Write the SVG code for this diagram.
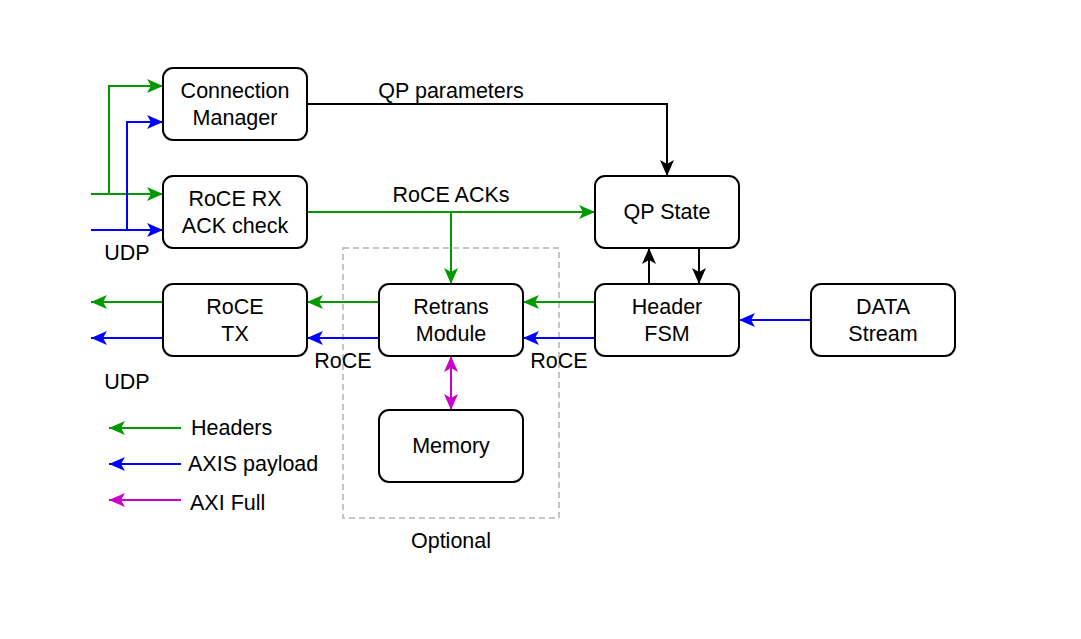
<svg xmlns="http://www.w3.org/2000/svg" width="1081" height="639" viewBox="0 0 1081 639">
<style>
.box{fill:#fff;stroke:#000;stroke-width:2}
text{font-family:"Liberation Sans",Arial,sans-serif;font-size:21.5px;fill:#000}
.c{text-anchor:middle}
.g{stroke:#009900;stroke-width:2;fill:none}
.b{stroke:#0000FF;stroke-width:2;fill:none}
.k{stroke:#000;stroke-width:2;fill:none}
.m{stroke:#CC00CC;stroke-width:2;fill:none}
</style>
<defs>
<marker id="ag" markerUnits="userSpaceOnUse" viewBox="0 0 16 14" refX="16" refY="7" markerWidth="16" markerHeight="14" orient="auto-start-reverse"><path d="M0,0 L16,7 L0,14 L4,7 Z" fill="#009900"/></marker>
<marker id="ab" markerUnits="userSpaceOnUse" viewBox="0 0 16 14" refX="16" refY="7" markerWidth="16" markerHeight="14" orient="auto-start-reverse"><path d="M0,0 L16,7 L0,14 L4,7 Z" fill="#0000FF"/></marker>
<marker id="ak" markerUnits="userSpaceOnUse" viewBox="0 0 16 14" refX="16" refY="7" markerWidth="16" markerHeight="14" orient="auto-start-reverse"><path d="M0,0 L16,7 L0,14 L4,7 Z" fill="#000"/></marker>
<marker id="am" markerUnits="userSpaceOnUse" viewBox="0 0 16 14" refX="16" refY="7" markerWidth="16" markerHeight="14" orient="auto-start-reverse"><path d="M0,0 L16,7 L0,14 L4,7 Z" fill="#CC00CC"/></marker>
</defs>
<rect width="1081" height="639" fill="#fff"/>
<rect id="optional" x="343" y="248" width="216" height="270" fill="none" stroke="#B3B3B3" stroke-width="1.5" stroke-dasharray="6,4"/>
<text class="c" x="451" y="548">Optional</text>

<g id="connectors">
<path class="g" d="M91,194 H163" marker-end="url(#ag)"/>
<path class="g" d="M109,194 V86 H163" marker-end="url(#ag)"/>
<path class="b" d="M91,230 H163" marker-end="url(#ab)"/>
<path class="b" d="M127,230 V122 H163" marker-end="url(#ab)"/>
<path class="k" d="M307,104 H667 V176" marker-end="url(#ak)"/>
<path class="g" d="M307,212 H595" marker-end="url(#ag)"/>
<path class="g" d="M451,212 V284" marker-end="url(#ag)"/>
<path class="g" d="M595,302 H523" marker-end="url(#ag)"/>
<path class="g" d="M379,302 H307" marker-end="url(#ag)"/>
<path class="g" d="M163,302 H91" marker-end="url(#ag)"/>
<path class="b" d="M595,338 H523" marker-end="url(#ab)"/>
<path class="b" d="M379,338 H307" marker-end="url(#ab)"/>
<path class="b" d="M163,338 H91" marker-end="url(#ab)"/>
<path class="k" d="M649,284 V248" marker-end="url(#ak)"/>
<path class="k" d="M699,248 V284" marker-end="url(#ak)"/>
<path class="b" d="M811,320 H739" marker-end="url(#ab)"/>
<path class="m" d="M451,356 V410" marker-start="url(#am)" marker-end="url(#am)"/>
<text class="c" x="451" y="98">QP parameters</text>
<text class="c" x="451" y="202">RoCE ACKs</text>
<text class="c" x="127" y="260">UDP</text>
<text class="c" x="127" y="389">UDP</text>
<text class="c" x="343" y="368">RoCE</text>
<text class="c" x="559" y="368">RoCE</text>
</g>

<g id="legend">
<path class="g" d="M181,428 H109" marker-end="url(#ag)"/>
<path class="b" d="M181,464 H109" marker-end="url(#ab)"/>
<path class="m" d="M181,500 H109" marker-end="url(#am)"/>
<text x="191" y="435">Headers</text>
<text x="188" y="471">AXIS payload</text>
<text x="190" y="510">AXI Full</text>
</g>

<g id="connection-manager"><rect class="box" x="163" y="68" width="144" height="72" rx="10"/><text class="c" x="235" y="98">Connection</text><text class="c" x="235" y="125">Manager</text></g>
<g id="roce-rx"><rect class="box" x="163" y="176" width="144" height="72" rx="10"/><text class="c" x="235" y="206">RoCE RX</text><text class="c" x="235" y="233">ACK check</text></g>
<g id="roce-tx"><rect class="box" x="163" y="284" width="144" height="72" rx="10"/><text class="c" x="235" y="314">RoCE</text><text class="c" x="235" y="341">TX</text></g>
<g id="retrans"><rect class="box" x="379" y="284" width="144" height="72" rx="10"/><text class="c" x="451" y="314">Retrans</text><text class="c" x="451" y="341">Module</text></g>
<g id="memory"><rect class="box" x="379" y="410" width="144" height="72" rx="10"/><text class="c" x="451" y="453">Memory</text></g>
<g id="qp-state"><rect class="box" x="595" y="176" width="144" height="72" rx="10"/><text class="c" x="667" y="219">QP State</text></g>
<g id="header-fsm"><rect class="box" x="595" y="284" width="144" height="72" rx="10"/><text class="c" x="667" y="314">Header</text><text class="c" x="667" y="341">FSM</text></g>
<g id="data-stream"><rect class="box" x="811" y="284" width="144" height="72" rx="10"/><text class="c" x="883" y="314">DATA</text><text class="c" x="883" y="341">Stream</text></g>
</svg>
